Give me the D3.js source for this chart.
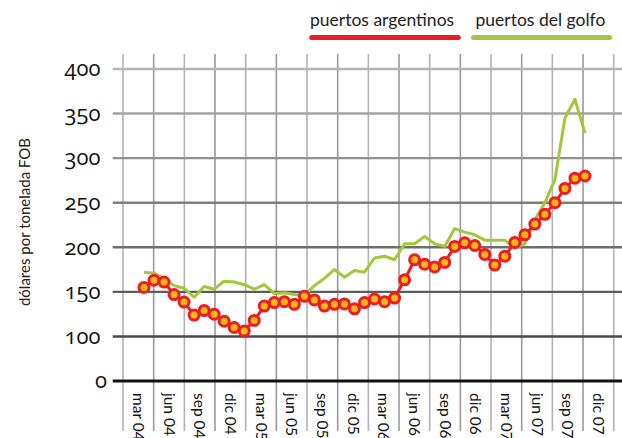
<!DOCTYPE html>
<html>
<head>
<meta charset="utf-8">
<script src="https://cdn.jsdelivr.net/npm/d3@7"></script>
<style>
  body { margin: 0; background: #fff; }
  svg { display: block; font-family: Lato, "Open Sans", sans-serif; }
  .ytick { font-family: "Open Sans", Lato, sans-serif; font-feature-settings: "onum" 1; font-variant-numeric: oldstyle-nums; }
</style>
</head>
<body>
<div id="chart"></div>
<script>
// monthly data, abr 04 .. dic 07
var months = ["abr 04","may 04","jun 04","jul 04","ago 04","sep 04","oct 04","nov 04","dic 04",
  "ene 05","feb 05","mar 05","abr 05","may 05","jun 05","jul 05","ago 05","sep 05","oct 05","nov 05","dic 05",
  "ene 06","feb 06","mar 06","abr 06","may 06","jun 06","jul 06","ago 06","sep 06","oct 06","nov 06","dic 06",
  "ene 07","feb 07","mar 07","abr 07","may 07","jun 07","jul 07","ago 07","sep 07","oct 07","nov 07","dic 07"];

var argentinos = [155, 163, 161, 147, 138.5, 124, 129, 125, 117,
  110, 106, 118, 134, 138, 139, 136, 145, 141, 134, 136, 136.5,
  131, 138, 142, 139, 143, 163.5, 186, 181, 178, 183, 201, 205,
  202, 192, 180, 190, 205.5, 214, 226, 237, 250, 266, 277.5, 280];

var golfo = [172, 171, 165, 157, 154, 144, 156, 153, 162,
  161, 158, 153, 158, 148, 149, 147, 146, 157, 165, 175, 166.5,
  174, 172, 188, 190, 186, 204, 204, 212, 204, 201, 221, 217,
  214, 208, 208, 208, 199, 204, 231, 250, 276, 345, 366, 328];

var quarterLabels = ["mar 04","jun 04","sep 04","dic 04","mar 05","jun 05","sep 05","dic 05",
  "mar 06","jun 06","sep 06","dic 06","mar 07","jun 07","sep 07","dic 07"];

var yTicks = [50, 100, 150, 200, 250, 300, 350, 400];   // 50 is drawn as the "0" base line

var W = 622, H = 438;

var svg = d3.select("#chart").append("svg")
    .attr("width", W)
    .attr("height", H);

// scales
var y = d3.scaleLinear().domain([50, 400]).range([381, 69]);
var xData = d3.scaleLinear().domain([0, months.length - 1]).range([144, 585]);
var xBand = d3.scaleBand().domain(quarterLabels).range([123, 613.7]);
var gridColor = d3.scaleLinear().domain([100, 400]).range(["#4a4a4a", "#b4b4b4"]);

// vertical grid lines
var vx = quarterLabels.map(function(d) { return xBand(d); });
vx.push(xBand.range()[1]);
svg.append("g").selectAll("line")
    .data(vx)
    .enter().append("line")
    .attr("x1", function(d) { return d; })
    .attr("x2", function(d) { return d; })
    .attr("y1", 54)
    .attr("y2", 431)
    .style("stroke", function(d, i) { return i % 2 ? "#9a9a9a" : "#b2b2b2"; })
    .style("stroke-width", 1.6);

// horizontal grid lines
svg.append("g").selectAll("line")
    .data(yTicks)
    .enter().append("line")
    .attr("x1", 112.7)
    .attr("x2", W)
    .attr("y1", function(d) { return y(d); })
    .attr("y2", function(d) { return y(d); })
    .style("stroke", function(d) { return d === 50 ? "#111" : gridColor(d); })
    .style("stroke-width", function(d) { return d === 50 ? 3.2 : 2.4; });

// y tick labels
svg.append("g").selectAll("text")
    .data(yTicks)
    .enter().append("text")
    .attr("class", "ytick")
    .attr("x", function(d) { return d === 50 ? 107 : 100.5; })
    .attr("y", function(d) { return y(d); })
    .attr("dy", "0.33em")
    .attr("text-anchor", "end")
    .style("font-size", "22px")
    .style("fill", "#111")
    .text(function(d) { return d === 50 ? "0" : d; });

// y axis title
svg.append("text")
    .attr("transform", "translate(30,222) rotate(-90)")
    .attr("text-anchor", "middle")
    .style("font-size", "15px")
    .style("fill", "#222")
    .text("dólares por tonelada FOB");

// x labels, rotated
svg.append("g").selectAll("text")
    .data(quarterLabels)
    .enter().append("text")
    .attr("transform", function(d) {
        return "translate(" + (xBand(d) + xBand.bandwidth() / 2) + ",393) rotate(90)";
    })
    .attr("dy", "0.35em")
    .style("font-size", "15.5px")
    .style("fill", "#111")
    .text(function(d) { return d; });

// lines
var line = function(vals) {
    return d3.line()
        .x(function(d, i) { return xData(i); })
        .y(function(d) { return y(d); })(vals);
};

svg.append("path")
    .attr("d", line(golfo))
    .style("fill", "none")
    .style("stroke", "#a2c83a")
    .style("stroke-width", 3)
    .style("stroke-linejoin", "round");

svg.append("path")
    .attr("d", line(argentinos))
    .style("fill", "none")
    .style("stroke", "#ec1c24")
    .style("stroke-width", 3)
    .style("stroke-linejoin", "round");

svg.append("g").selectAll("circle")
    .data(argentinos)
    .enter().append("circle")
    .attr("cx", function(d, i) { return xData(i); })
    .attr("cy", function(d) { return y(d); })
    .attr("r", 5)
    .style("fill", "#fcb813")
    .style("stroke", "#ec1c24")
    .style("stroke-width", 3);

// legend
var legend = [
    {name: "puertos argentinos", color: "#ec1c24", x: 310, x1: 311.7, x2: 458.3},
    {name: "puertos del golfo", color: "#a2c83a", x: 475.5, x1: 473.5, x2: 609.5}
];
var lg = svg.append("g").selectAll("g")
    .data(legend)
    .enter().append("g");
lg.append("text")
    .attr("x", function(d) { return d.x; })
    .attr("y", 26)
    .style("font-size", "17.5px")
    .style("fill", "#222")
    .text(function(d) { return d.name; });
lg.append("line")
    .attr("x1", function(d) { return d.x1; })
    .attr("x2", function(d) { return d.x2; })
    .attr("y1", 37.5)
    .attr("y2", 37.5)
    .style("stroke", function(d) { return d.color; })
    .style("stroke-width", 5)
    .style("stroke-linecap", "round");
</script>
</body>
</html>
